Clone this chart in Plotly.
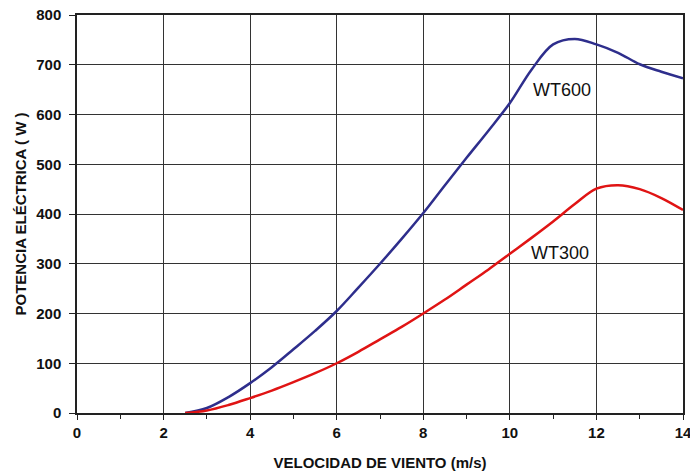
import plotly.graph_objects as go

x_wt600 = [2.5, 3, 3.5, 4, 4.5, 5, 5.5, 6, 6.5, 7, 7.5, 8, 8.5, 9, 9.5, 10, 10.5, 11, 11.5, 12, 12.5, 13, 13.5, 14]
y_wt600 = [0, 10, 32, 60, 92, 128, 165, 205, 252, 300, 350, 402, 458, 513, 567, 623, 690, 741, 752, 741, 724, 701, 686, 673]
x_wt300 = [2.5, 3, 3.5, 4, 4.5, 5, 5.5, 6, 6.5, 7, 7.5, 8, 8.5, 9, 9.5, 10, 10.5, 11, 11.5, 12, 12.5, 13, 13.5, 14]
y_wt300 = [0, 5, 16, 30, 45, 62, 80, 100, 123, 148, 173, 200, 228, 258, 288, 320, 352, 385, 420, 451, 458, 450, 432, 408]

labels = ["WT600", "WT300"]
label_x = [11.2, 11.15]
label_y = [649, 322]

x_ticks = [0, 2, 4, 6, 8, 10, 12, 14]
x_minor = [1, 3, 5, 7, 9, 11, 13]
y_ticks = [0, 100, 200, 300, 400, 500, 600, 700, 800]

fig = go.Figure()
fig.add_trace(go.Scatter(x=x_wt600, y=y_wt600, mode="lines",
                         line=dict(color="#2e2e8c", width=2.5, shape="spline", smoothing=1.0),
                         showlegend=False))
fig.add_trace(go.Scatter(x=x_wt300, y=y_wt300, mode="lines",
                         line=dict(color="#e01414", width=2.5, shape="spline", smoothing=1.0),
                         showlegend=False))

for t, lx, ly in zip(labels, label_x, label_y):
    fig.add_annotation(x=lx, y=ly, text=t, showarrow=False,
                       font=dict(family="Liberation Sans, Arial", size=18, color="#111111"))

font_bold = dict(family="Liberation Sans, Arial", size=15, color="#111111")
title_font = dict(family="Liberation Sans, Arial", size=15, color="#111111")
fig.update_layout(
    width=690, height=474,
    margin=dict(l=77, r=7, t=15, b=61),
    paper_bgcolor="white", plot_bgcolor="white",
    xaxis=dict(range=[0, 14], tickmode="array", tickvals=x_ticks,
               ticktext=["<b>%d</b>" % v for v in x_ticks],
               showgrid=True, gridcolor="#333333", gridwidth=1,
               showline=True, linecolor="#222222", linewidth=1.5, mirror=True,
               ticks="outside", ticklen=5, tickcolor="#222222",
               minor=dict(tickvals=x_minor, ticks="outside", ticklen=4,
                          tickcolor="#222222", showgrid=False),
               zeroline=False, tickfont=font_bold, ticklabeloverflow="allow",
               automargin=False,
               title=dict(text="<b>VELOCIDAD DE VIENTO (m/s)</b>", font=title_font, standoff=18)),
    yaxis=dict(range=[0, 800], tickmode="array", tickvals=y_ticks,
               ticktext=["<b>%d</b>" % v for v in y_ticks],
               showgrid=True, gridcolor="#333333", gridwidth=1,
               showline=True, linecolor="#222222", linewidth=1.5, mirror=True,
               ticks="outside", ticklen=6, tickcolor="#222222", ticklabelstandoff=5,
               zeroline=False, tickfont=font_bold, ticklabeloverflow="allow",
               automargin=False,
               title=dict(text="<b>POTENCIA ELÉCTRICA ( W )</b>", font=title_font, standoff=6)),
)

fig.write_html("out.html")
